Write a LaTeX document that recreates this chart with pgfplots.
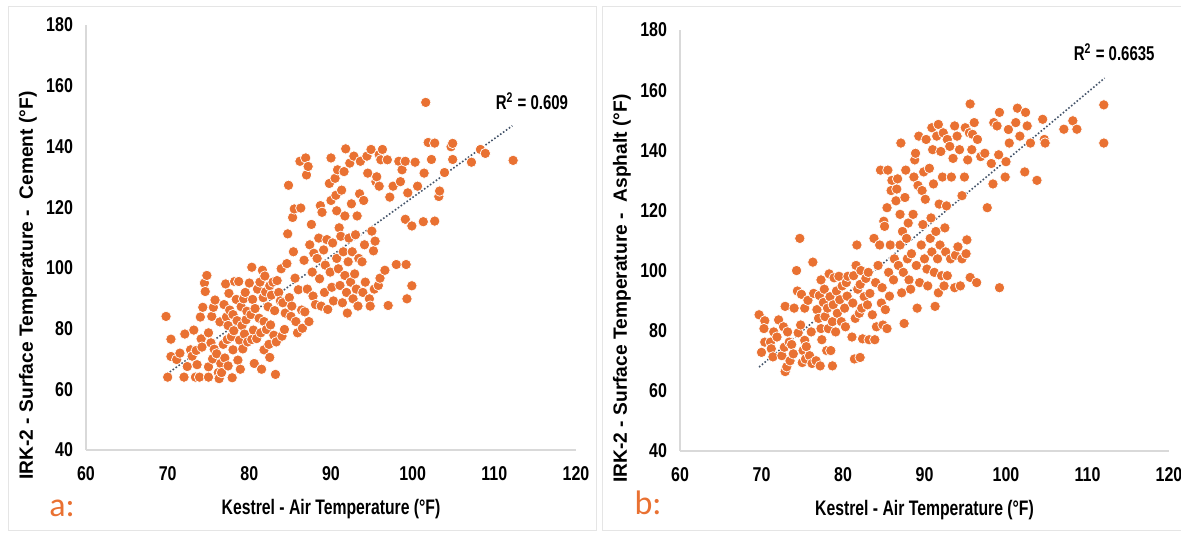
\documentclass[border=0pt]{standalone}
\usepackage{fontspec}
\setmainfont{Liberation Sans}
\newfontfamily\narrow[FakeStretch=0.8]{Liberation Sans}
\newfontfamily\condensed[FakeStretch=0.75]{Liberation Sans}
\newfontfamily\panelfont{Carlito}
\usepackage{pgfplots}
\pgfplotsset{compat=1.18}

\definecolor{dotorange}{HTML}{E97132}
\definecolor{trend}{HTML}{44546A}
\definecolor{axisgray}{HTML}{D9D9D9}

% surface vs air temperature, cement
\pgfplotstableread{
x y
69.8 84.0
70.4 76.5
70.4 70.8
70.0 64.0
71.1 69.8
71.5 71.9
72.1 78.2
72.0 64.0
72.4 67.5
72.8 73.0
73.0 70.9
73.2 79.5
73.4 64.0
73.5 72.8
73.6 68.1
73.9 64.0
74.0 83.8
74.1 76.6
74.2 73.9
74.3 87.0
74.5 95.0
74.6 92.2
74.8 97.5
75.0 67.4
75.0 64.0
75.0 78.6
75.3 75.3
75.4 84.0
75.5 70.0
75.6 87.0
75.7 73.2
75.8 89.4
76.0 71.7
76.2 65.5
76.3 63.5
76.4 82.2
76.5 68.5
76.6 65.5
76.8 74.8
76.9 87.9
77.0 70.3
77.1 94.7
77.2 83.8
77.3 76.4
77.4 67.7
77.4 81.0
77.5 91.6
77.6 86.1
77.8 77.3
77.9 63.8
78.0 84.6
78.0 73.0
78.1 79.3
78.2 95.5
78.4 89.6
78.5 82.6
78.6 69.6
78.7 95.5
78.8 76.2
78.9 66.6
79.0 87.2
79.1 81.0
79.2 73.3
79.3 89.8
79.4 78.2
79.5 91.9
79.6 82.9
79.7 85.7
79.8 75.6
80.0 95.0
80.2 84.6
80.3 76.4
80.3 100.2
80.4 89.6
80.5 79.5
80.6 68.5
80.7 86.6
80.9 76.7
81.0 93.0
81.2 83.4
81.3 95.3
81.4 78.6
81.5 66.6
81.6 99.2
81.7 90.2
81.8 82.3
81.8 73.0
81.9 97.3
82.0 92.1
82.1 79.7
82.3 87.2
82.4 74.8
82.5 94.1
82.5 70.5
82.6 81.2
82.7 91.0
82.9 95.3
83.0 77.8
83.1 85.9
83.2 64.9
83.3 75.6
83.4 95.8
83.6 91.9
83.8 89.1
83.9 99.7
84.0 77.5
84.1 88.5
84.3 79.7
84.4 85.1
84.6 101.4
84.7 111.2
84.8 127.2
84.9 90.2
85.1 84.0
85.2 87.4
85.3 116.6
85.4 105.3
85.5 119.4
85.6 96.6
85.7 82.3
85.9 78.6
86.0 92.8
86.2 135.1
86.3 119.7
86.4 86.1
86.5 80.1
86.7 102.5
86.8 85.5
86.9 136.2
87.0 130.6
87.1 93.0
87.2 133.4
87.3 82.3
87.4 107.6
87.6 114.3
87.7 98.6
87.8 90.7
87.9 104.8
88.1 87.9
88.3 103.1
88.5 109.8
88.6 96.4
88.7 120.5
88.8 87.4
88.9 118.3
89.1 105.9
89.2 91.9
89.3 100.9
89.5 109.3
89.6 86.3
89.8 127.8
89.9 98.6
90.0 136.2
90.0 122.2
90.1 93.6
90.2 108.2
90.3 89.1
90.5 129.5
90.6 123.9
90.7 103.1
90.7 118.8
90.8 132.3
90.9 99.7
91.0 113.2
91.1 94.2
91.2 110.4
91.3 125.6
91.4 88.5
91.5 105.3
91.6 131.7
91.7 117.1
91.7 97.5
91.8 139.2
91.9 91.9
92.0 85.1
92.1 102.0
92.2 109.8
92.3 134.5
92.4 95.3
92.5 121.1
92.6 105.3
92.7 89.8
92.8 136.8
92.9 98.0
93.0 110.9
93.1 93.0
93.2 117.1
93.3 87.4
93.4 103.1
93.5 124.4
93.6 135.1
93.8 102.0
93.9 91.9
94.0 122.2
94.1 107.6
94.2 95.3
94.4 136.8
94.5 131.2
94.7 89.8
94.8 87.4
94.9 139.0
95.0 112.1
95.2 105.6
95.3 93.0
95.4 108.8
95.5 128.4
95.6 130.0
95.8 94.2
95.9 137.3
95.9 126.9
96.0 96.6
96.1 135.6
96.3 139.0
96.6 99.2
96.9 135.6
97.0 87.6
97.2 123.3
97.6 126.9
98.0 101.1
98.3 135.1
98.5 128.4
98.7 132.3
99.1 135.1
99.1 116.0
99.2 101.1
99.3 89.8
99.4 124.7
99.9 94.1
99.9 113.8
100.3 134.8
100.6 126.9
101.3 115.2
101.4 131.2
101.6 154.5
101.9 141.3
102.3 135.7
102.7 141.1
102.7 115.4
103.2 123.5
103.3 125.3
103.9 131.4
104.7 139.9
104.9 141.0
104.9 135.7
107.2 134.8
108.3 139.0
108.9 137.7
112.3 135.4
}\cement

% surface vs air temperature, asphalt
\pgfplotstableread{
x y
69.7 85.3
70.4 83.3
70.3 80.7
70.0 72.8
70.4 76.2
71.1 76.2
71.2 74.0
71.4 71.3
71.5 79.6
71.9 77.9
72.1 83.6
72.5 71.7
72.7 81.3
72.8 74.5
72.9 66.4
72.9 88.1
73.1 68.0
73.2 79.6
73.4 76.2
73.5 70.0
73.7 75.4
73.9 72.3
74.0 87.5
74.3 100.0
74.4 93.2
74.5 79.3
74.7 110.7
74.8 81.9
74.9 92.1
75.0 69.4
75.1 73.4
75.3 87.5
75.3 76.8
75.4 70.6
75.5 74.7
75.7 90.1
75.9 71.7
76.1 79.6
76.2 69.1
76.3 102.8
76.4 92.4
76.7 70.0
76.8 87.0
77.0 84.1
77.1 91.7
77.2 68.3
77.3 96.9
77.3 80.7
77.4 77.0
77.6 89.4
77.7 93.8
77.8 84.7
78.0 73.4
78.1 87.5
78.2 80.7
78.3 98.9
78.4 91.3
78.5 73.4
78.7 83.0
78.7 68.3
78.8 88.6
78.9 97.6
79.1 79.6
79.2 93.2
79.3 85.8
79.5 98.1
79.6 90.3
79.8 83.0
79.9 94.9
80.2 87.5
80.3 81.3
80.4 96.0
80.5 91.5
80.6 98.1
81.1 77.9
81.2 89.2
81.3 98.3
81.4 70.6
81.5 84.1
81.6 101.7
81.7 108.5
81.8 93.8
82.0 85.8
82.1 95.4
82.1 71.1
82.2 100.0
82.3 87.5
82.4 77.3
82.6 91.3
82.8 97.4
83.0 88.6
83.1 99.4
83.2 77.0
83.3 92.4
83.6 85.3
83.8 110.7
83.9 77.0
84.0 96.0
84.1 81.3
84.3 101.7
84.5 108.5
84.6 133.4
84.7 89.2
84.8 94.3
84.9 81.9
85.0 116.4
85.1 114.7
85.2 87.0
85.4 120.9
85.4 80.7
85.5 133.4
85.6 99.4
85.7 91.5
85.8 108.5
85.9 126.6
86.0 130.0
86.2 96.9
86.3 103.9
86.5 123.2
86.6 127.1
86.7 130.5
86.8 101.7
87.0 108.5
87.0 118.7
87.1 142.4
87.2 92.6
87.3 113.0
87.4 99.4
87.5 82.4
87.6 124.3
87.7 133.4
87.8 110.7
87.9 103.9
88.0 115.8
88.1 96.9
88.3 93.8
88.4 105.6
88.6 118.7
88.7 131.1
88.8 136.8
88.9 139.0
89.0 101.7
89.1 87.5
89.2 128.3
89.3 144.7
89.4 96.0
89.6 108.5
89.7 126.6
89.8 115.3
89.9 132.8
90.0 103.9
90.1 123.7
90.2 143.6
90.3 100.5
90.4 94.9
90.6 134.0
90.7 110.7
90.8 117.5
90.9 147.5
90.9 106.2
91.0 140.2
91.1 128.8
91.2 99.4
91.3 88.1
91.4 113.0
91.5 144.7
91.6 103.9
91.7 92.6
91.7 148.6
91.8 122.1
91.9 108.5
92.0 139.6
92.1 98.3
92.2 131.1
92.3 145.8
92.4 94.9
92.5 114.2
92.6 106.2
92.7 121.5
92.8 143.6
92.8 98.3
93.1 141.3
93.2 103.9
93.3 131.1
93.5 137.3
93.7 148.1
93.7 94.3
93.8 105.1
94.0 144.7
94.1 107.9
94.3 140.2
94.4 94.9
94.6 103.9
94.6 124.9
94.9 131.1
95.0 147.5
95.1 105.6
95.2 110.2
95.3 136.8
95.5 145.8
95.6 97.7
95.6 155.4
95.8 140.2
95.9 145.3
96.1 149.2
96.4 96.0
96.5 143.6
96.9 137.9
97.4 139.0
97.7 120.9
98.2 135.6
98.4 128.8
98.5 149.2
98.9 148.1
99.1 138.5
99.2 94.3
99.2 152.6
99.9 131.1
100.0 136.2
100.3 146.9
100.4 142.4
101.2 149.2
101.4 154.0
101.7 144.7
102.3 132.8
102.4 152.6
102.6 148.1
103.0 142.4
103.8 130.0
104.5 150.3
104.7 143.6
104.8 142.4
107.1 147.0
108.2 149.8
108.7 147.0
112.0 155.1
112.0 142.4
}\asphalt

\pgfplotsset{
  panel/.style={
    scale only axis, anchor=south west, clip=false,
    xmin=60, xmax=120, ymin=40, ymax=180,
    xtick={60,70,...,120}, ytick={40,60,...,180},
    axis x line*=bottom, axis y line*=left,
    axis line style={axisgray, line width=0.6pt},
    major tick length=0pt,
    tick label style={font=\narrow\bfseries\fontsize{10}{11}\selectfont},
    /pgf/number format/assume math mode=true,
    xticklabel style={yshift=-4.5pt},
    yticklabel style={xshift=-3pt},
    xlabel style={at={(axis description cs:0.5,0)}, anchor=center, yshift=-29.5pt,
      font=\condensed\bfseries\fontsize{10.5}{12}\selectfont},
    ylabel style={at={([xshift=-29pt,yshift=-24pt]axis description cs:0,0.5)}, anchor=center,
      font=\bfseries\fontsize{9.6}{11}\selectfont},
  },
  dots/.style={only marks, mark=*, mark size=2.6pt,
    mark options={fill=dotorange, draw=white, line width=0.35pt}},
  trendline/.style={trend, densely dotted, line width=0.8pt, no marks},
}

\begin{document}
\begin{tikzpicture}
\useasboundingbox (0,0) rectangle (590.5pt,266.5pt);
\clip (0,0) rectangle (590.5pt,266.5pt);
% panel frames
\draw[gray!20, line width=0.5pt] (4pt,1pt) rectangle (298pt,263pt);
\draw[gray!20, line width=0.5pt] (301pt,1pt) rectangle (600pt,263pt);

\begin{axis}[panel, at={(43pt,41.5pt)}, width=245pt, height=212.5pt,
  xlabel={Kestrel - Air Temperature (°F)},
  ylabel={IRK-2 - Surface Temperature -\ \ Cement (°F)}]
  \addplot[dots] table[x=x, y=y] {\cement};
  \addplot[trendline] coordinates {(69.9,65.0) (112.2,146.8)};
  \node[font=\condensed\bfseries\fontsize{10}{11}\selectfont, anchor=center]
    at (rel axis cs:0.91,0.821) {R\textsuperscript{2} = 0.609};
\end{axis}
\node[text=dotorange, font=\panelfont\fontsize{17}{18}\selectfont, anchor=center] at (31pt,12.5pt) {a:};

\begin{axis}[panel, at={(340pt,41pt)}, width=244.5pt, height=210.5pt,
  xlabel={Kestrel - Air Temperature (°F)},
  ylabel={IRK-2 - Surface Temperature -\ \ Asphalt (°F)}]
  \addplot[dots] table[x=x, y=y] {\asphalt};
  \addplot[trendline] coordinates {(69.7,67.9) (112.1,164.0)};
  \node[font=\condensed\bfseries\fontsize{10}{11}\selectfont, anchor=center]
    at (rel axis cs:0.888,0.947) {R\textsuperscript{2} = 0.6635};
\end{axis}
\node[text=dotorange, font=\panelfont\fontsize{17}{18}\selectfont, anchor=center] at (324pt,15pt) {b:};
\end{tikzpicture}
\end{document}
